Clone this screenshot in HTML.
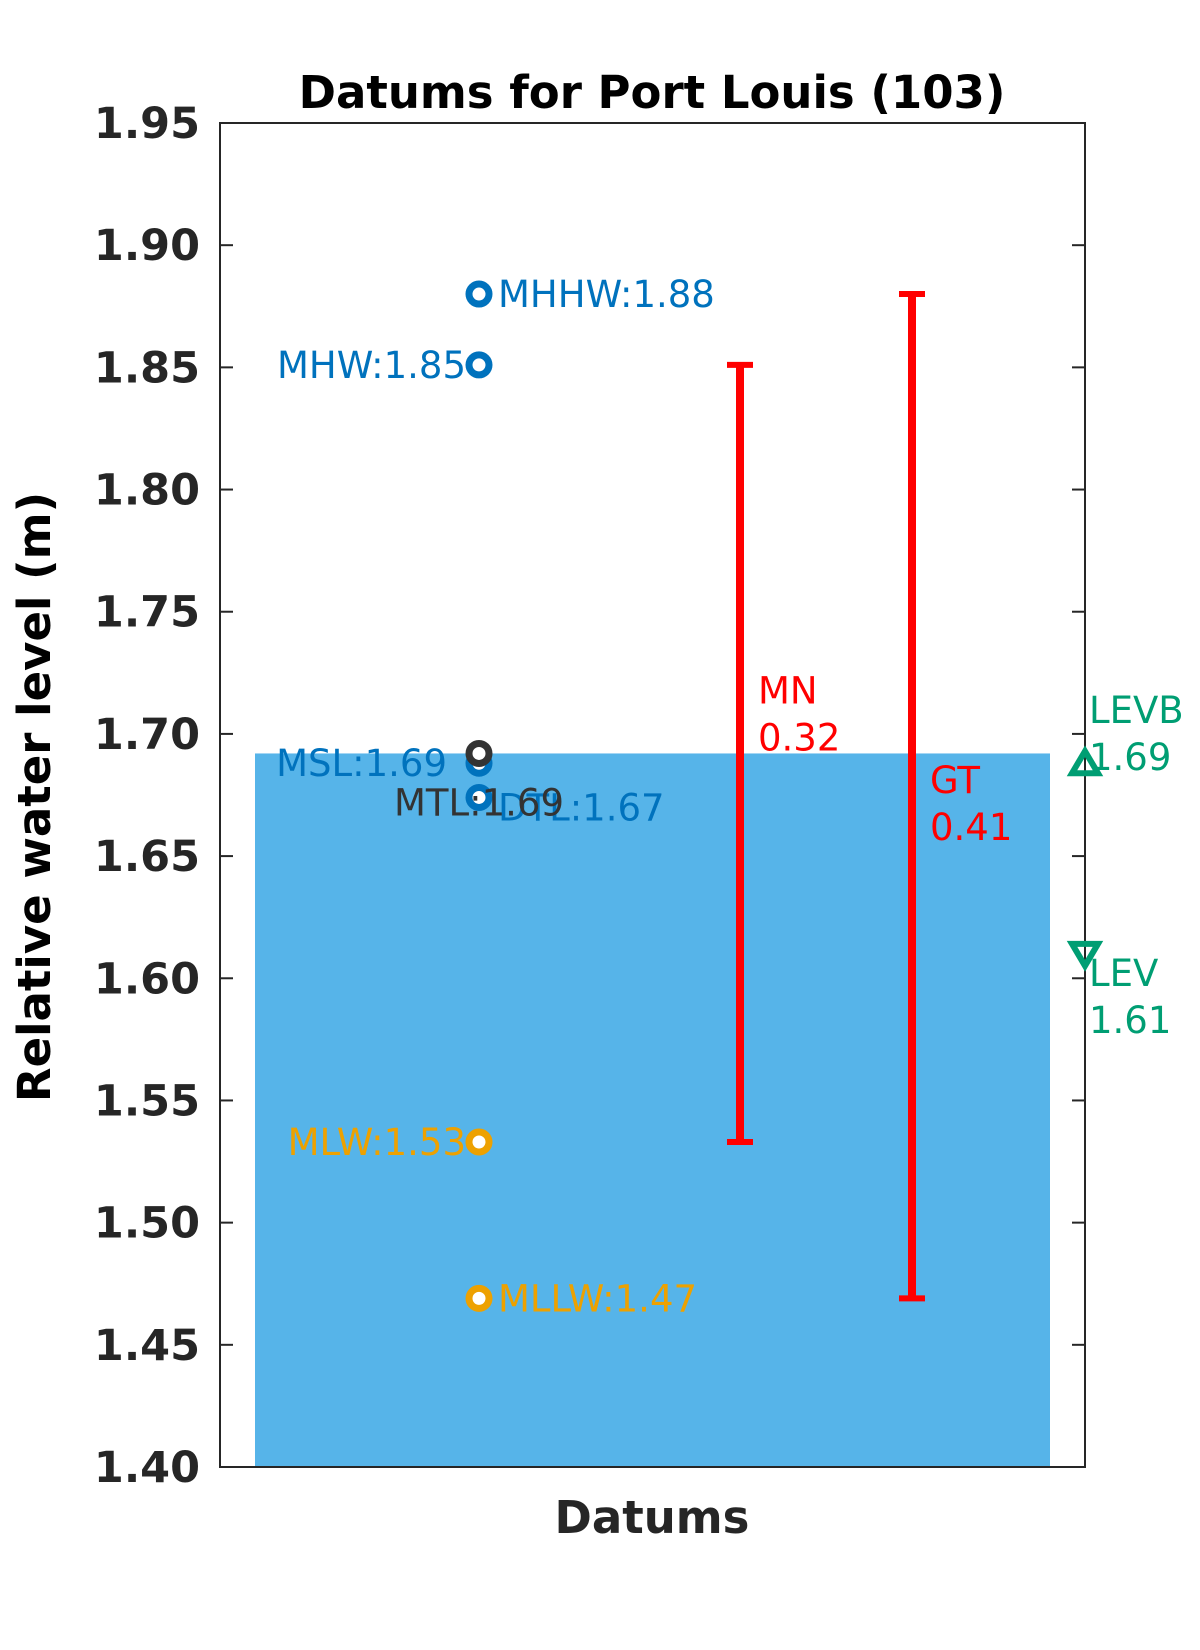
<!DOCTYPE html>
<html><head><meta charset="utf-8"><style>body{margin:0;background:#fff}svg{display:block}text{font-family:"DejaVu Sans","Liberation Sans",sans-serif}</style></head>
<body>
<svg id="chart" width="1200" height="1650" xmlns="http://www.w3.org/2000/svg">
<rect width="1200" height="1650" fill="#fff"/>
<g id="plot"></g>
</svg>
<script>
const ticks=[1.40,1.45,1.50,1.55,1.60,1.65,1.70,1.75,1.80,1.85,1.90,1.95];
const datumNames=["MHHW","MHW","MSL","DTL","MTL","MLW","MLLW"];
const datumValues=[1.88,1.851,1.688,1.674,1.692,1.533,1.469];
const datumColors=["#0072BD","#0072BD","#0072BD","#0072BD","#333333","#EDA100","#EDA100"];
const rangeNames=["MN","GT"];
const rangeLow=[1.533,1.469];
const rangeHigh=[1.851,1.88];
const levNames=["LEVB","LEV"];
const levValues=[1.688,1.61];
const barValue=1.692;

const L=220,R=1085,T=123,B=1467,ymin=1.40,ymax=1.95;
const y=v=>B-(v-ymin)/(ymax-ymin)*(B-T);
const svg=document.getElementById('chart');
const g=document.getElementById('plot');
const NS="http://www.w3.org/2000/svg";
function mk(tag,attrs,parent){const e=document.createElementNS(NS,tag);for(const k in attrs)e.setAttribute(k,attrs[k]);(parent||g).appendChild(e);return e;}
function txt(s,attrs){const e=mk('text',attrs);e.textContent=s;return e;}

const bar=mk('rect',{x:255,y:y(barValue),width:795,height:B-y(barValue),fill:'#56B4E9'});



// axes box
const box=mk('rect',{x:L,y:T,width:R-L,height:B-T,fill:'none',stroke:'#262626','stroke-width':2});


ticks.forEach(t=>{
  const yy=y(t);
  const tl=mk('line',{x1:L,x2:L+13,y1:yy,y2:yy,stroke:'#262626','stroke-width':2});
  
  
  const tr=mk('line',{x1:R-13,x2:R,y1:yy,y2:yy,stroke:'#262626','stroke-width':2});
  
  
  const lb=txt(t.toFixed(2),{x:200,y:yy+15,'text-anchor':'end','font-size':43,'font-weight':'bold',fill:'#262626'});
  
  
});

// range bars
const rx=[740,912];
rangeNames.forEach((n,i)=>{
  const x=rx[i],y1=y(rangeHigh[i]),y2=y(rangeLow[i]);
  const gg=mk('g',{});
  
  
  mk('line',{x1:x,x2:x,y1:y1,y2:y2,stroke:'#ff0000','stroke-width':8},gg);
  mk('line',{x1:x-13,x2:x+13,y1:y1,y2:y1,stroke:'#ff0000','stroke-width':6},gg);
  mk('line',{x1:x-13,x2:x+13,y1:y2,y2:y2,stroke:'#ff0000','stroke-width':6},gg);
  const v=(rangeHigh[i]-rangeLow[i]).toFixed(2);
  const ty=y((rangeHigh[i]+rangeLow[i])/2)-(i===0?50:3);
  const a=txt(n,{x:x+18,y:ty,'font-size':37,fill:'#ff0000'});
  
  
  const b=txt(v,{x:x+18,y:ty+47,'font-size':37,fill:'#ff0000'});
  
  
});

// datum markers
const mx=479;
const labelPos={MHHW:[498,13,'start'],MHW:[466,13,'end'],MSL:[447,13,'end'],DTL:[498,13,'start'],MTL:[394,13,'start'],MLW:[466,13,'end'],MLLW:[498,13,'start']};
const dyOff={MHHW:0,MHW:0,MSL:0,DTL:0,MTL:49,MLW:0,MLLW:0};
datumNames.forEach((n,i)=>{
  const yy=y(datumValues[i]);
  const c=mk('circle',{cx:mx,cy:yy,r:10,fill:'#fff',stroke:datumColors[i],'stroke-width':7});
  
  
});
datumNames.forEach((n,i)=>{
  const yy=y(datumValues[i]);
  const p=labelPos[n];
  const t=txt(n+':'+datumValues[i].toFixed(2),{x:p[0],y:yy+p[1]+dyOff[n]+(n==='DTL'?10:0),'text-anchor':p[2],'font-size':37,fill:datumColors[i]});
  
  
});

// LEV triangles
levNames.forEach((n,i)=>{
  const yy=y(levValues[i]),x=R;
  const pts=i===0?`${x-13},${yy+10} ${x+13},${yy+10} ${x},${yy-12}`:`${x-13},${yy-10} ${x+13},${yy-10} ${x},${yy+12}`;
  const tri=mk('polygon',{points:pts,fill:'none',stroke:'#009E73','stroke-width':6});
  
  
  const ty=i===0?yy-40:yy+32;
  const a=txt(n,{x:1089,y:ty,'font-size':37,fill:'#009E73'});
  
  
  const b=txt(levValues[i].toFixed(2),{x:1089,y:ty+47,'font-size':37,fill:'#009E73'});
  
  
});

const title=txt('Datums for Port Louis (103)',{x:652,y:108,'text-anchor':'middle','font-size':45,'font-weight':'bold',fill:'#000'});


const xl=txt('Datums',{x:652,y:1533,'text-anchor':'middle','font-size':45,'font-weight':'bold',fill:'#262626'});


const yl=txt('Relative water level (m)',{x:0,y:0,'text-anchor':'middle','font-size':45,'font-weight':'bold',fill:'#000',transform:'translate(50,797) rotate(-90)'});


</script>
</body></html>
